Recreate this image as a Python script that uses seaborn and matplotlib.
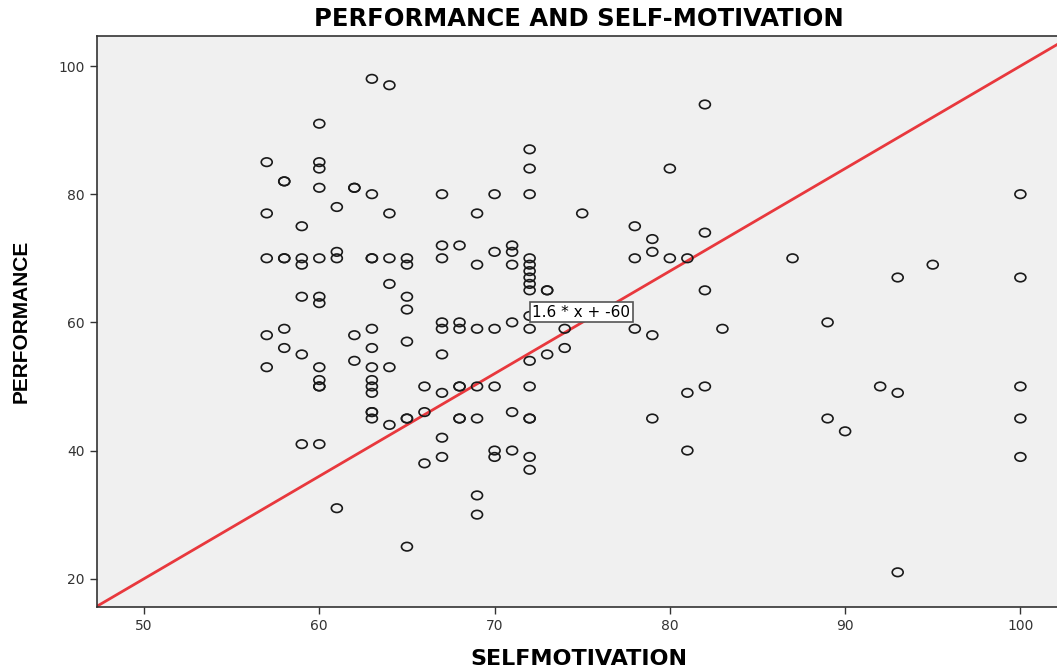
"""Scatter of performance vs self-motivation with fitted reference line."""

import matplotlib

matplotlib.use("Agg")
import matplotlib.pyplot as plt  # noqa: E402
import numpy as np  # noqa: E402
import pandas as pd  # noqa: E402
import seaborn as sns  # noqa: E402
from matplotlib.path import Path  # noqa: E402

# values
selfmotivation = (
    [57] * 5 + [58] * 6 + [59] * 6 + [60] * 12 + [61] * 4 + [62] * 4
    + [63] * 13 + [64] * 6 + [65] * 8 + [66] * 3 + [67] * 9 + [68] * 7
    + [69] * 7 + [70] * 6 + [71] * 6 + [72] * 17 + [73] * 3 + [74] * 2
    + [75] + [78] * 3 + [79] * 4 + [80] * 2 + [81] * 3 + [82] * 4 + [83]
    + [87] + [89] * 2 + [90] + [92] + [93] * 3 + [95] + [100] * 5
)
performance = [
    85, 77, 70, 58, 53,
    82, 82, 70, 70, 59, 56,
    75, 70, 69, 64, 55, 41,
    91, 85, 84, 81, 70, 64, 63, 53, 51, 50, 50, 41,
    78, 71, 70, 31,
    81, 81, 58, 54,
    98, 80, 70, 70, 59, 56, 53, 51, 50, 49, 46, 46, 45,
    97, 77, 70, 66, 53, 44,
    70, 69, 64, 62, 57, 45, 45, 25,
    50, 46, 38,
    80, 72, 70, 60, 59, 55, 49, 42, 39,
    72, 60, 59, 50, 50, 45, 45,
    77, 69, 59, 50, 45, 33, 30,
    80, 71, 59, 50, 40, 39,
    72, 71, 69, 60, 46, 40,
    87, 84, 80, 70, 69, 68, 67, 66, 65, 61, 59, 54, 50, 45, 45, 39, 37,
    65, 65, 55,
    59, 56,
    77,
    75, 70, 59,
    73, 71, 58, 45,
    84, 70,
    70, 49, 40,
    94, 74, 65, 50,
    59,
    70,
    60, 45,
    43,
    50,
    67, 49, 21,
    69,
    80, 67, 50, 45, 39,
]
slope, intercept = 1.6, -60
x_ticks = [50, 60, 70, 80, 90, 100]
y_ticks = [20, 40, 60, 80, 100]

df = pd.DataFrame({"SELFMOTIVATION": selfmotivation, "PERFORMANCE": performance})

sns.set_style("white")
plt.rcParams["font.family"] = ["DejaVu Sans"]

fig = plt.figure(figsize=(10.57, 6.71), dpi=100)
ax = fig.add_axes([0.0915, 0.0955, 0.912, 0.851])
ax.set_facecolor("#f0f0f0")

# slightly flattened open circle, like the SPSS marker
circ = Path.unit_circle()
oval = Path(circ.vertices * np.array([1.0, 0.78]), circ.codes)

sns.scatterplot(
    data=df, x="SELFMOTIVATION", y="PERFORMANCE", ax=ax,
    marker=oval, s=62, facecolor="none", edgecolor="#1a1a1a", linewidth=1.2,
    zorder=3,
)

ax.set_xlim(47.3, 102.3)
ax.set_ylim(15.6, 104.7)

xs = np.array(ax.get_xlim())
ax.plot(xs, slope * xs + intercept, color="#e8383d", lw=2, zorder=2)

ax.text(
    72.15, 61.6, "1.6 * x + -60", fontsize=11, va="center", ha="left",
    color="black", zorder=4,
    bbox=dict(boxstyle="square,pad=0.15", fc="white", ec="#555555", lw=1.2),
)

ax.set_xticks(x_ticks)
ax.set_yticks(y_ticks)
ax.tick_params(direction="out", length=5, width=1, colors="#333333",
               labelsize=10, bottom=True, left=True)
for side in ["left", "bottom", "top", "right"]:
    ax.spines[side].set_color("#333333")
    ax.spines[side].set_linewidth(1.2)

ax.set_xlabel("SELFMOTIVATION", fontsize=16, fontweight="bold", labelpad=12,
              color="black")
ax.set_ylabel("PERFORMANCE", fontsize=15, fontweight="bold", labelpad=20,
              family="Liberation Sans", color="black")
ax.set_title("PERFORMANCE AND SELF-MOTIVATION", fontsize=17.5, fontweight="bold",
             pad=7, color="black")

fig.savefig("out.png", dpi=100)
plt.close(fig)
